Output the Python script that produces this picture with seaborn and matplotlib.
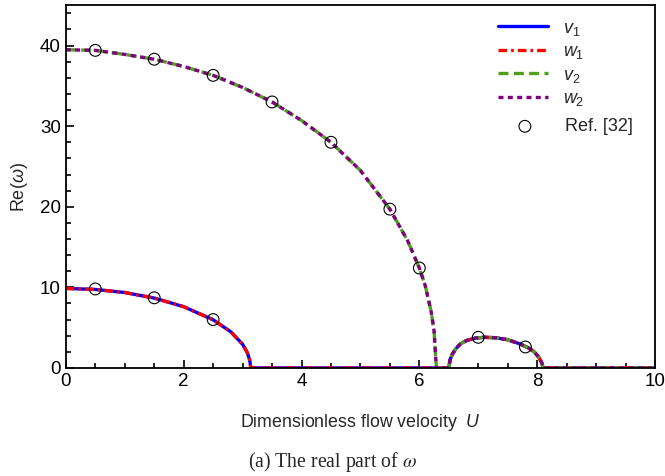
import numpy as np
import pandas as pd
import seaborn as sns
import matplotlib.pyplot as plt
from matplotlib.ticker import MultipleLocator

# values
U1 = [0, 0.5, 1.0, 1.5, 2.0, 2.5, 2.8, 3.0, 3.08, 3.12, 3.14,
      4.0, 5.0, 6.0, 6.5, 6.52, 6.56, 6.62, 6.7, 6.8, 6.95, 7.1, 7.3,
      7.5, 7.7, 7.85, 7.95, 8.03, 8.08, 8.1, 9.0, 10.0]
re1 = [9.87, 9.74, 9.36, 8.67, 7.60, 5.98, 4.48, 2.94, 1.9, 1.0, 0.0,
       0.0, 0.0, 0.0, 0.0, 1.0, 1.7, 2.4, 3.0, 3.4, 3.7, 3.8, 3.75,
       3.5, 3.0, 2.5, 2.0, 1.3, 0.6, 0.0, 0.0, 0.0]

U2 = [0, 0.5, 1.0, 1.5, 2.0, 2.5, 3.0, 3.5, 4.0, 4.5, 5.0, 5.5, 5.8,
      6.0, 6.1, 6.2, 6.25, 6.28, 6.29, 6.5, 6.52, 6.56, 6.62, 6.7, 6.8,
      6.95, 7.1, 7.3, 7.5, 7.7, 7.85, 7.95, 8.03, 8.08, 8.1, 9.0, 10.0]
re2 = [39.48, 39.4, 38.9, 38.3, 37.4, 36.3, 34.8, 33.0, 30.7, 28.0, 24.5,
       19.7, 15.8, 12.4, 10.2, 7.0, 4.6, 1.0, 0.0, 0.0, 1.0, 1.7, 2.4,
       3.0, 3.4, 3.7, 3.8, 3.75, 3.5, 3.0, 2.5, 2.0, 1.3, 0.6, 0.0, 0.0, 0.0]

ref_U = [0.5, 1.5, 2.5, 0.5, 1.5, 2.5, 3.5, 4.5, 5.5, 6.0, 7.0, 7.8]
ref_re = [9.8, 8.7, 6.0, 39.4, 38.3, 36.3, 33.0, 28.0, 19.7, 12.4, 3.8, 2.6]

sns.set_style('ticks')
plt.rcParams['font.family'] = ['Liberation Sans', 'DejaVu Sans']
plt.rcParams['mathtext.fontset'] = 'custom'
plt.rcParams['mathtext.it'] = 'Liberation Sans:italic'
plt.rcParams['mathtext.rm'] = 'Liberation Sans'

fig = plt.figure(figsize=(6.65, 4.76), dpi=100)
ax = fig.add_axes([0.099, 0.227, 0.886, 0.762])

lw = 2.4
sns.lineplot(x=U1, y=re1, ax=ax, color='#0000ff', lw=lw, label='$v_1$',
             sort=False, estimator=None)
sns.lineplot(x=U1, y=re1, ax=ax, color='#ff0000', lw=lw, label='$w_1$',
             sort=False, estimator=None, linestyle=(0, (2.6, 1.2, 0.8, 1.2)))
sns.lineplot(x=U2, y=re2, ax=ax, color='#4da11f', lw=lw, label='$v_2$',
             sort=False, estimator=None, linestyle=(0, (3.0, 1.6)))
sns.lineplot(x=U2, y=re2, ax=ax, color='#800080', lw=lw, label='$w_2$',
             sort=False, estimator=None, linestyle=(0, (1.5, 1.3)))
sns.scatterplot(x=ref_U, y=ref_re, ax=ax, marker='o', s=72,
                facecolor='none', edgecolor='black', linewidth=0.8,
                label='Ref. [32]', zorder=5)

ax.set_xlim(0, 10)
ax.set_ylim(0, 45)
ax.xaxis.set_major_locator(MultipleLocator(2))
ax.xaxis.set_minor_locator(MultipleLocator(0.5))
ax.yaxis.set_major_locator(MultipleLocator(10))
ax.yaxis.set_minor_locator(MultipleLocator(2))
ax.tick_params(which='both', direction='in', labelsize=13.5, width=1.2,
               colors='black')
ax.tick_params(which='major', length=6)
ax.tick_params(which='minor', length=3.5)
for sp in ax.spines.values():
    sp.set_linewidth(1.3)
    sp.set_color('black')
    sp.set_visible(True)

ax.set_xlabel('Dimensionless flow velocity  $U$', fontsize=12.8, labelpad=16)
ax.set_ylabel(r'Re($\omega$)', fontsize=13, labelpad=7)

# two legends: the Ref. entry sits a little lower than the line entries
handles, labels = ax.get_legend_handles_labels()
leg_kw = dict(loc='upper left', frameon=False, fontsize=13,
              handlelength=2.75, handletextpad=0.85, borderpad=0,
              borderaxespad=0)
leg1 = ax.legend(handles[:4], labels[:4], labelspacing=0.3,
                 bbox_to_anchor=(0.7334, 0.96), **leg_kw)
ax.add_artist(leg1)
ax.legend(handles[4:], labels[4:], bbox_to_anchor=(0.737, 0.689), **leg_kw)

fig.text(0.5, 0.029, r'(a) The real part of $\omega$', ha='center',
         va='center', fontsize=14.2, family='Liberation Serif',
         math_fontfamily='stix')

fig.savefig('out.png', dpi=100)
